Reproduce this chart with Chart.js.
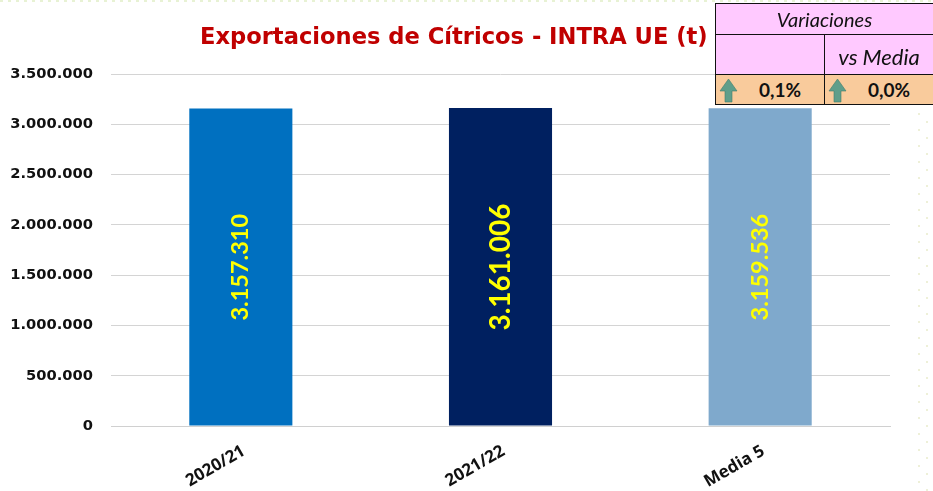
<!DOCTYPE html>
<html><head><meta charset="utf-8">
<style>
html,body{margin:0;padding:0;background:#fff;width:933px;height:491px;overflow:hidden}
#wrap{position:relative;width:933px;height:491px}
#c{position:absolute;left:0;top:0}
.dr{position:absolute;width:2px;background-image:linear-gradient(#eef0d8 2px,transparent 2px);background-size:2px 16px}
#dotsT{position:absolute;left:0;top:0;width:933px;height:2px;background-image:linear-gradient(90deg,#e8f2d4 3px,transparent 3px);background-size:8px 2px}
#title{position:absolute;left:200px;top:23px;font:bold 22.6px "DejaVu Sans";color:#c00000;white-space:nowrap}
table{position:absolute;left:715px;top:3px;width:219px;border-collapse:collapse;table-layout:fixed;font-family:Lato,"Open Sans",sans-serif;color:#111}
td{border:1px solid #111;padding:0;text-align:center;background:#ffc9ff;font-style:italic;font-size:20px}
td.m{font-size:22px;padding-top:3px;box-sizing:border-box}
td.v{background:#f9cb9c;font-style:normal;font-weight:bold;font-size:19px;position:relative;text-align:right;padding-right:23px;box-sizing:border-box}
td svg{position:absolute;left:3px;top:3px}
</style></head><body>
<div id="wrap">
<canvas id="c" width="933" height="491"></canvas>
<div id="dotsT"></div>
<div class="dr" style="left:918px;top:113px;height:378px"></div>
<div class="dr" style="left:926px;top:121px;height:370px"></div>
<div id="title">Exportaciones de Cítricos - INTRA UE (t)</div>
<table>
<tr style="height:31px"><td colspan="2">Variaciones</td></tr>
<tr style="height:40px"><td></td><td class="m">vs Media</td></tr>
<tr style="height:30px"><td class="v" id="v0"></td><td class="v" id="v1"></td></tr>
</table>
</div>
<script src="https://cdn.jsdelivr.net/npm/chart.js@4"></script>
<script>
const categories=["2020/21","2021/22","Media 5"];
const values=[3157310,3161006,3159536];
const barColors=["#0070c0","#002060","#7fa9cc"];
const labelSizes=[23.5,28,23.5];
const tickValues=[0,500000,1000000,1500000,2000000,2500000,3000000,3500000];
const variations=["0,1%","0,0%"];

const fmt=n=>String(n).replace(/\B(?=(\d{3})+$)/g,".");
const arrow='<svg width="19" height="25" viewBox="0 0 19 25"><path d="M9.5 1 L18 13 H13 V24 H6 V13 H1 Z" fill="#5f9e8a" stroke="#3f7d6c" stroke-width=".6"/></svg>';
variations.forEach((t,i)=>{document.getElementById("v"+i).innerHTML=arrow+t;});

new Chart(document.getElementById("c"),{
 type:"bar",
 data:{labels:categories,datasets:[{data:values,backgroundColor:barColors,barPercentage:.397,categoryPercentage:1}]},
 options:{
  responsive:false,animation:false,
  layout:{padding:{left:1,right:43,top:74,bottom:0}},
  plugins:{legend:{display:false},title:{display:false},tooltip:{enabled:false}},
  scales:{
   x:{grid:{display:false},border:{color:"#d0d0d0",width:1},afterFit:a=>{a.height=65;},
      ticks:{color:"#111",font:{family:"Open Sans",weight:"bold",size:17},minRotation:30,maxRotation:30,padding:7,labelOffset:3}},
   y:{min:0,max:3500000,afterBuildTicks:a=>{a.ticks=tickValues.map(v=>({value:v}));},afterFit:a=>{a.width=110;},
      grid:{color:"#d4d4d4",lineWidth:1,drawTicks:false},border:{display:false},
      ticks:{color:"#111",padding:18,font:{family:"DejaVu Sans",weight:"bold",size:14.7},callback:v=>fmt(v)}}
  }
 },
 plugins:[{id:"rotLabels",afterDatasetsDraw(ch){
   const g=ch.ctx,m=ch.getDatasetMeta(0);
   m.data.forEach((b,i)=>{
     g.save();
     g.translate(b.x,(ch.scales.y.getPixelForValue(0)+b.y)/2);
     g.rotate(-Math.PI/2);
     g.fillStyle="#ffff00";g.textAlign="center";g.textBaseline="middle";
     g.font="bold "+labelSizes[i]+"px Lato";
     g.fillText(fmt(values[i]),0,0);
     g.restore();
   });
 }}]
});
</script>
</body></html>
